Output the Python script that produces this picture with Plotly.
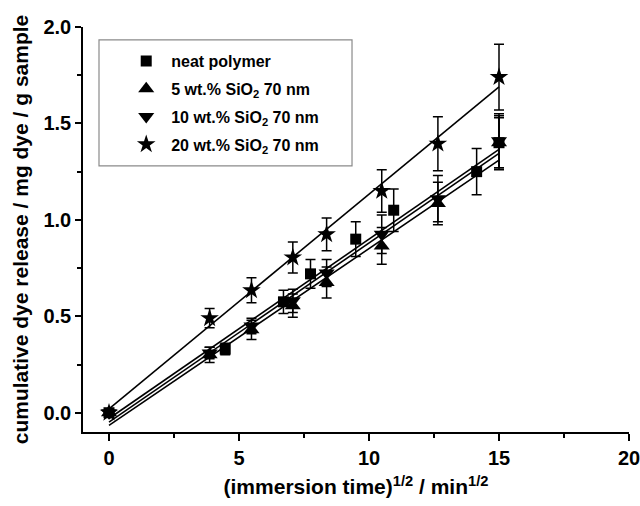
import plotly.graph_objects as go

# ---- data ----
series_names = ["neat polymer",
                "5 wt.% SiO<sub>2</sub> 70 nm",
                "10 wt.% SiO<sub>2</sub> 70 nm",
                "20 wt.% SiO<sub>2</sub> 70 nm"]

x_neat = [0.0, 4.47, 6.71, 7.75, 9.49, 10.95, 14.14, 15.0]
y_neat = [0.0, 0.33, 0.575, 0.72, 0.90, 1.05, 1.25, 1.40]
e_neat = [0.0, 0.03, 0.06, 0.075, 0.09, 0.11, 0.12, 0.13]

x_5 = [0.0, 3.87, 5.48, 7.07, 8.37, 10.49, 12.65, 15.0]
y_5 = [0.0, 0.30, 0.43, 0.555, 0.675, 0.865, 1.085, 1.40]
e_5 = [0.0, 0.04, 0.05, 0.06, 0.08, 0.095, 0.11, 0.14]

x_10 = [0.0, 3.87, 5.48, 7.07, 8.37, 10.49, 12.65, 15.0]
y_10 = [0.0, 0.31, 0.45, 0.58, 0.725, 0.925, 1.11, 1.41]
e_10 = [0.0, 0.03, 0.04, 0.06, 0.07, 0.10, 0.12, 0.14]

x_20 = [0.0, 3.87, 5.48, 7.07, 8.37, 10.49, 12.65, 15.0]
y_20 = [0.0, 0.49, 0.635, 0.805, 0.925, 1.15, 1.395, 1.74]
e_20 = [0.0, 0.05, 0.065, 0.08, 0.085, 0.11, 0.14, 0.17]

# linear fit parameters (intercept, slope)
fit_intercept = [-0.049, -0.066, -0.030, 0.020]
fit_slope = [0.0929, 0.0917, 0.0930, 0.1113]

x_ticks = [0, 5, 10, 15, 20]
y_ticks = [0.0, 0.5, 1.0, 1.5, 2.0]

FONT = "Liberation Sans, Arial, sans-serif"

xs = [x_neat, x_5, x_10, x_20]
ys = [y_neat, y_5, y_10, y_20]
es = [e_neat, e_5, e_10, e_20]
symbols = ["square", "triangle-up", "triangle-down", "star"]
sizes = [11, 14, 14, 14]

fig = go.Figure()

# fit lines
for i in range(4):
    x0, x1 = min(xs[i]), max(xs[i])
    fig.add_trace(go.Scatter(
        x=[x0, x1],
        y=[fit_intercept[i] + fit_slope[i] * x0, fit_intercept[i] + fit_slope[i] * x1],
        mode="lines", line=dict(color="black", width=1.6),
        showlegend=False, hoverinfo="skip"))

# data points with error bars
for i in range(4):
    fig.add_trace(go.Scatter(
        x=xs[i], y=ys[i], mode="markers", name=series_names[i],
        legendgroup=f"g{i}",
        marker=dict(symbol=symbols[i], size=sizes[i], color="black",
                    line=dict(width=0)),
        error_y=dict(type="data", array=es[i], visible=True,
                     color="black", thickness=1.5, width=5)))

tick_font = dict(family=FONT, size=20, color="black", weight="bold")
title_font = dict(family=FONT, size=21, color="black", weight="bold")

# legend frame (grey box)
fig.add_shape(type="rect", xref="paper", yref="paper",
              x0=0.0293, x1=0.4927, y0=0.657, y1=0.968,
              line=dict(color="#8a8a8a", width=1.2), fillcolor="white",
              layer="below")

fig.update_layout(
    width=640, height=506,
    margin=dict(l=83, r=11, t=27, b=74, autoexpand=False),
    paper_bgcolor="white", plot_bgcolor="white",
    font=dict(family=FONT, color="black"),
    showlegend=True,
    legend=dict(
        x=0.0700, y=0.958, xanchor="left", yanchor="top",
        borderwidth=0, bgcolor="rgba(0,0,0,0)",
        font=dict(family=FONT, size=16, color="black", weight="bold"),
        itemwidth=40, tracegroupgap=4),
    xaxis=dict(
        range=[-1, 20], tickmode="array", tickvals=x_ticks,
        ticktext=[str(v) for v in x_ticks],
        ticklabeloverflow="allow", automargin=False,
        showline=True, linecolor="black", linewidth=1.6,
        ticks="outside", ticklen=7, tickwidth=1.6, tickcolor="black",
        minor=dict(dtick=2.5, tick0=0, ticks="outside", ticklen=4,
                   tickwidth=1.6, tickcolor="black"),
        showgrid=False, zeroline=False,
        tickfont=tick_font,
        title=dict(text="(immersion time)<sup>1/2</sup> / min<sup>1/2</sup>",
                   font=title_font, standoff=12)),
    yaxis=dict(
        range=[-0.1, 2.0], tickmode="array", tickvals=y_ticks,
        ticktext=[f"{v:.1f}" for v in y_ticks],
        ticklabeloverflow="allow", automargin=False,
        showline=True, linecolor="black", linewidth=1.6,
        ticks="outside", ticklen=6, tickwidth=1.6, tickcolor="black",
        minor=dict(dtick=0.25, tick0=0, ticks="outside", ticklen=4,
                   tickwidth=1.6, tickcolor="black"),
        showgrid=False, zeroline=False,
        tickfont=tick_font,
        title=dict(text="cumulative dye release / mg dye / g sample",
                   font=title_font, standoff=9)),
)

fig.write_html("out.html")
